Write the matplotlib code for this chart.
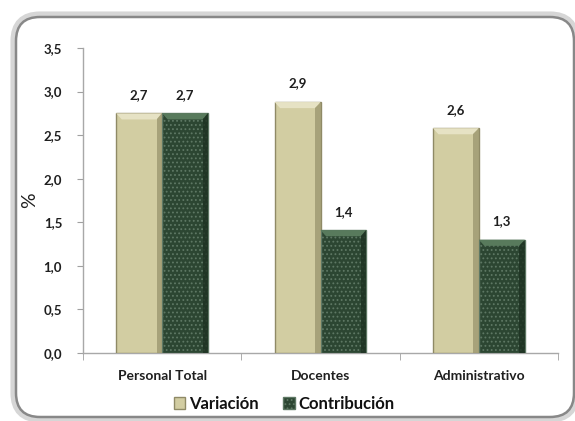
import matplotlib
matplotlib.use("Agg")
import matplotlib.pyplot as plt
import numpy as np
from matplotlib.patches import FancyBboxPatch, Polygon

plt.rcParams['font.family'] = ['Lato', 'DejaVu Sans']
plt.rcParams['hatch.linewidth'] = 0.8

categories = ['Personal Total', 'Docentes', 'Administrativo']
variacion = [2.75, 2.88, 2.58]
contribucion = [2.75, 1.41, 1.30]
lab_variacion = ['2,7', '2,9', '2,6']
lab_contribucion = ['2,7', '1,4', '1,3']
yticks = [0.0, 0.5, 1.0, 1.5, 2.0, 2.5, 3.0, 3.5]

W, H = 575, 421
fig = plt.figure(figsize=(W / 100, H / 100), dpi=100)

# background frame
bg = fig.add_axes([0, 0, 1, 1], zorder=-10)
bg.set_xlim(0, W)
bg.set_ylim(H, 0)
bg.axis('off')
bg.add_patch(FancyBboxPatch((16, 17), 558, 400, boxstyle="round,pad=0,rounding_size=24",
                            fc='white', ec='#d6d6d6', lw=8))
bg.add_patch(FancyBboxPatch((16, 17), 558, 400, boxstyle="round,pad=0,rounding_size=24",
                            fc='white', ec='#888888', lw=1.8))

ax = fig.add_axes([83 / W, 1 - 353 / H, (558 - 83) / W, (353 - 48) / H])
ax.set_facecolor('none')

x = np.arange(len(categories))
w = 0.29
b1 = ax.bar(x - w / 2, variacion, w, color='#d2cda2', edgecolor='#8f8a66', lw=1.0, zorder=3)
b2 = ax.bar(x + w / 2, contribucion, w, color='#2c4632', edgecolor='#5e7864', lw=1.0,
            hatch='....', zorder=3)

# bevel look: light cap on top, shadow on the right side
bx, by = 0.035, 0.07
for bars, light, dark in ((b1, '#e6e2c4', '#9d9870'), (b2, '#587a5c', '#1e3222')):
    for r in bars:
        x0, x1, top = r.get_x(), r.get_x() + r.get_width(), r.get_height()
        ax.add_patch(Polygon([(x0, top), (x1, top), (x1 - bx, top - by), (x0 + bx, top - by)],
                             closed=True, fc=light, ec='none', zorder=4))
        ax.add_patch(Polygon([(x1, top), (x1, 0), (x1 - bx, 0), (x1 - bx, top - by)],
                             closed=True, fc=dark, ec='none', alpha=0.8, zorder=4))

for bars, labs in ((b1, lab_variacion), (b2, lab_contribucion)):
    for r, t in zip(bars, labs):
        ax.annotate(t, (r.get_x() + r.get_width() / 2, r.get_height()),
                    xytext=(0, 9), textcoords='offset points', ha='center', va='bottom',
                    fontsize=9.5, fontweight='bold', color='#1f1f1f')

ax.set_xlim(-0.5, len(categories) - 0.5)
ax.set_ylim(0, 3.5)
ax.set_yticks(yticks)
ax.set_yticklabels([f'{v:.1f}'.replace('.', ',') for v in yticks],
                   fontsize=9.5, fontweight='bold', color='#1f1f1f')
ax.set_xticks(x)
ax.set_xticklabels(categories, fontsize=10, fontweight='bold', color='#1f1f1f')
ax.set_xticks(np.arange(len(categories) + 1) - 0.5, minor=True)
ax.tick_params(axis='x', which='major', length=0, pad=12)
ax.tick_params(axis='x', which='minor', length=5, color='#a0a0a0', direction='out')
ax.tick_params(axis='y', length=4, color='#a0a0a0', pad=11)
for s in ('top', 'right'):
    ax.spines[s].set_visible(False)
for s in ('left', 'bottom'):
    ax.spines[s].set_color('#a8a8a8')
    ax.spines[s].set_linewidth(1.0)

ax.set_ylabel('%', fontsize=14, color='#1f1f1f', labelpad=4)

leg = ax.legend([b1, b2], ['Variación', 'Contribución'], loc='center',
                bbox_to_anchor=(284 / W, 1 - 404 / H), bbox_transform=fig.transFigure,
                ncol=2, frameon=False, prop={'size': 12, 'weight': 'bold'},
                handlelength=0.7, handleheight=0.7, handletextpad=0.2, columnspacing=1.5)
for t in leg.get_texts():
    t.set_color('#111111')

fig.savefig('out.png', dpi=100)
